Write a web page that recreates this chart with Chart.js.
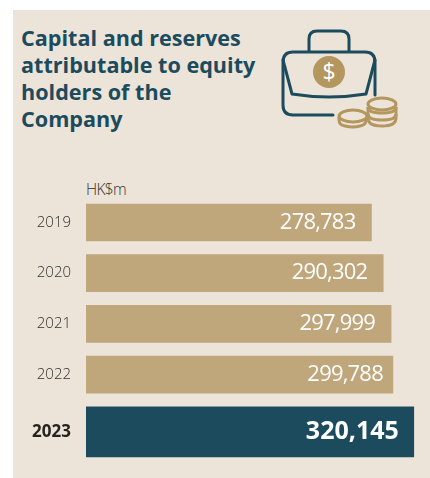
<!DOCTYPE html>
<html>
<head>
<meta charset="utf-8">
<script src="https://cdn.jsdelivr.net/npm/chart.js@4/dist/chart.umd.min.js"></script>
<style>
  html, body { margin: 0; padding: 0; background: #fff; }
  body { position: relative; width: 430px; height: 478px; overflow: hidden; font-family: "Open Sans", sans-serif; }
  #panel { position: absolute; left: 13px; top: 10px; width: 417px; height: 468px; background: #ece4d8; }
  #titulo { position: absolute; left: 21px; top: 24px; margin: 0; font-size: 21.6px; line-height: 27px; font-weight: 700; color: #1c4b5e; }
  #unidade { position: absolute; left: 86px; top: 178px; font-size: 15.5px; letter-spacing: -0.7px; color: #33302c; font-weight: 300; }
  #icone { position: absolute; left: 260px; top: 15px; }
  #grafico { position: absolute; left: 0; top: 0; }
</style>
</head>
<body>
<div id="panel"></div>
<h1 id="titulo">Capital and reserves<br>attributable to equity<br>holders of the<br>Company</h1>
<div id="unidade">HK$m</div>

<svg id="icone" width="160" height="130" viewBox="0 0 160 130" fill="none">
  <!-- pasta -->
  <g stroke="#1c4b5e" stroke-width="3" stroke-linecap="round" stroke-linejoin="round">
    <path d="M49 36 V24 Q49 16 57 16 H81 Q89 16 89 24 V36"/>
    <path d="M73 100 H33 Q23 100 23 90 V47 Q23 37 33 37 H105 Q115 37 115 47 V80"/>
    <path d="M23 45 L32 79 Q69 85 106 79 L115 45"/>
  </g>
  <circle cx="69" cy="57" r="16" fill="#b4965f"/>
  <text x="69" y="65" text-anchor="middle" font-size="23" fill="#fff" font-family="Open Sans">$</text>
  <!-- moedas -->
  <g stroke="#b4965f" stroke-width="3" fill="#ece4d8">
    <path d="M79 102 V105 Q79 110 85 111 Q93 113 100 111 Q106 110 106 105 V102"/>
    <ellipse cx="93" cy="101" rx="14" ry="6"/>
    <path d="M108 92 V103 Q108 111 122 111 Q136 111 136 103 V92"/>
    <path d="M108 99 Q108 105 122 105 Q136 105 136 99" fill="none"/>
    <path d="M108 92 Q108 98 122 98 Q136 98 136 92" fill="none"/>
    <ellipse cx="122" cy="89" rx="14" ry="6"/>
  </g>
</svg>

<canvas id="grafico" width="430" height="478" style="width:430px;height:478px"></canvas>

<script>
// Dados
const anos = ["2019", "2020", "2021", "2022", "2023"];
const valores = [278783, 290302, 297999, 299788, 320145];
// A barra de 2023 fica um pouco mais afastada das outras
const linhas = [0, 1, 2, 3, 4.13];
const recuoRotulo = [16, 16, 16, 10, 15];

const COR_BARRA = "#bfa67b";
const COR_DESTAQUE = "#1c4b5e";

const pontos = valores.map((v, i) => ({ x: v, y: linhas[i] }));

// Escreve o valor dentro de cada barra
const rotulosBarras = {
  id: "rotulosBarras",
  afterDatasetsDraw(chart) {
    const ctx = chart.ctx;
    ctx.save();
    ctx.textAlign = "right";
    ctx.textBaseline = "middle";
    ctx.fillStyle = "#fff";
    chart.data.datasets.forEach((ds, d) => {
      chart.getDatasetMeta(d).data.forEach((barra, i) => {
        const destaque = d === 1;
        const idx = destaque ? anos.length - 1 : i;
        ctx.font = destaque ? "700 25px 'Open Sans'" : "400 22px 'Open Sans'";
        ctx.letterSpacing = destaque ? "0px" : "-0.8px";
        ctx.fillText(valores[idx].toLocaleString("en-US"), barra.x - recuoRotulo[idx], barra.y);
      });
    });
    ctx.restore();
  }
};

new Chart(document.getElementById("grafico"), {
  type: "bar",
  data: {
    datasets: [
      { data: pontos.slice(0, 4), backgroundColor: COR_BARRA, barThickness: 37 },
      { data: pontos.slice(4), backgroundColor: COR_DESTAQUE, barThickness: 50 }
    ]
  },
  options: {
    indexAxis: "y",
    responsive: false,
    animation: false,
    layout: { padding: { top: 192.1, bottom: 17.3, left: 0, right: 0 } },
    plugins: { legend: { display: false }, tooltip: { enabled: false } },
    scales: {
      x: { display: false, min: 0, max: 336000 },
      y: {
        type: "linear",
        reverse: true,
        stacked: true,
        offset: false,
        min: -0.6,
        max: 4.7,
        grid: { display: false },
        border: { display: false },
        afterBuildTicks(scale) {
          scale.ticks = linhas.map(v => ({ value: v }));
        },
        afterFit(scale) {
          scale.width = 86;
        },
        ticks: {
          padding: 7,
          autoSkip: false,
          callback: v => anos[linhas.indexOf(v)],
          color: ctx => (ctx.index === 4 ? "#26231f" : "#33302c"),
          font: ctx => (ctx.index === 4
            ? { family: "Open Sans", size: 17, weight: "700" }
            : { family: "Open Sans", size: 15, weight: "300" })
        }
      }
    }
  },
  plugins: [rotulosBarras]
});
</script>
</body>
</html>
